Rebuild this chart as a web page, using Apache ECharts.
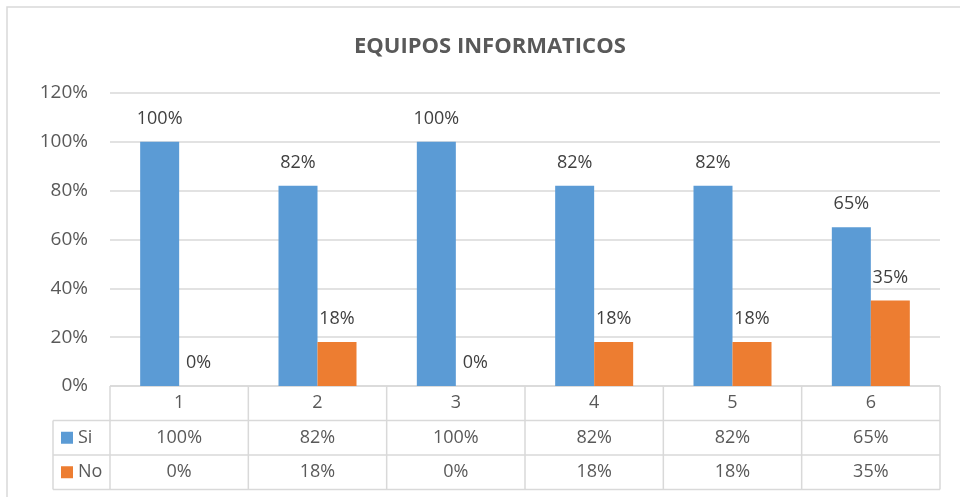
<!DOCTYPE html>
<html>
<head>
<meta charset="utf-8">
<title>EQUIPOS INFORMATICOS</title>
<script src="https://cdn.jsdelivr.net/npm/echarts@6/dist/echarts.min.js"></script>
<style>
  html, body { margin: 0; padding: 0; background: #fff; }
  #chart { width: 960px; height: 497px; }
</style>
</head>
<body>
<div id="chart"></div>
<script>
// Data
const categories = ['1', '2', '3', '4', '5', '6'];
const siValues = [1.00, 0.82, 1.00, 0.82, 0.82, 0.65];
const noValues = [0.00, 0.18, 0.00, 0.18, 0.18, 0.35];
const seriesNames = ['Si', 'No'];

const colors = { si: '#5B9BD5', no: '#ED7D31', text: '#595959', grid: '#D9D9D9' };
const font = '"Open Sans", "Noto Sans", sans-serif';

const pct = v => Math.round(v * 100) + '%';

// Plot area
const gridBox = { left: 110, right: 20, top: 93, bottom: 111 };
const rowH = 34.5;          // height of each data-table row
const legendColLeft = 53;   // left edge of the legend column in the table

const chart = echarts.init(document.getElementById('chart'));

const option = {
    animation: false,
    title: {
        text: 'EQUIPOS INFORMATICOS',
        left: 349,
        top: 31,
        textStyle: { fontFamily: font, fontSize: 22, fontWeight: 'bold', color: colors.text }
    },
    grid: gridBox,
    xAxis: {
        type: 'category',
        data: categories,
        axisLine: { show: false },
        axisTick: { show: false },
        axisLabel: { show: false }
    },
    yAxis: {
        type: 'value',
        min: 0,
        max: 1.2,
        interval: 0.2,
        axisLabel: {
            formatter: v => pct(v),
            fontFamily: font,
            fontSize: 19,
            color: colors.text,
            margin: 22
        },
        splitLine: { lineStyle: { color: colors.grid, width: 1.5 } }
    },
    series: [
        {
            name: seriesNames[0],
            type: 'bar',
            data: siValues,
            barWidth: 39,
            barGap: '0%',
            itemStyle: { color: colors.si },
            label: {
                show: true, position: 'top', distance: 14,
                formatter: p => pct(p.value),
                fontFamily: font, fontSize: 18, color: '#404040'
            }
        },
        {
            name: seriesNames[1],
            type: 'bar',
            data: noValues,
            barWidth: 39,
            barGap: '0%',
            itemStyle: { color: colors.no },
            label: {
                show: true, position: 'top', distance: 14,
                formatter: p => pct(p.value),
                fontFamily: font, fontSize: 18, color: '#404040'
            }
        }
    ]
};
chart.setOption(option);

// Data table under the plot, built from the same arrays and the x scale
function buildTable() {
    const w = 960, h = 497;
    const x0 = gridBox.left;
    const x1 = w - gridBox.right;
    const y0 = h - gridBox.bottom;
    const y1 = y0 + rowH, y2 = y1 + rowH, y3 = y2 + rowH;
    const catW = (x1 - x0) / categories.length;
    const line = { stroke: colors.grid, lineWidth: 1.5 };
    const els = [];

    // outer chart frame
    els.push({ type: 'polyline', shape: { points: [[7, h + 5], [7, 7], [w + 5, 7]] }, style: { stroke: colors.grid, lineWidth: 1.5, fill: null } });

    // horizontal rules
    els.push({ type: 'line', shape: { x1: x0, y1: y0, x2: x1, y2: y0 }, style: line });
    [y1, y2, y3].forEach(y => els.push({ type: 'line', shape: { x1: legendColLeft, y1: y, x2: x1, y2: y }, style: line }));

    // vertical rules
    els.push({ type: 'line', shape: { x1: legendColLeft, y1: y1, x2: legendColLeft, y2: y3 }, style: line });
    for (let i = 0; i <= categories.length; i++) {
        const x = x0 + i * catW;
        els.push({ type: 'line', shape: { x1: x, y1: y0, x2: x, y2: y3 }, style: line });
    }

    const cellText = (text, cx, cy) => ({
        type: 'text', x: cx, y: cy,
        style: { text: text, fill: colors.text, font: '18px ' + font, align: 'center', verticalAlign: 'middle' }
    });

    categories.forEach((c, i) => {
        const cx = chart.convertToPixel({ xAxisIndex: 0 }, c);
        els.push(cellText(c, cx, (y0 + y1) / 2));
        els.push(cellText(pct(siValues[i]), cx, (y1 + y2) / 2));
        els.push(cellText(pct(noValues[i]), cx, (y2 + y3) / 2));
    });

    // legend keys in the first column
    [[seriesNames[0], colors.si, (y1 + y2) / 2], [seriesNames[1], colors.no, (y2 + y3) / 2]].forEach(([name, col, cy]) => {
        els.push({ type: 'rect', shape: { x: 61, y: cy - 6, width: 12, height: 12 }, style: { fill: col } });
        els.push({
            type: 'text', x: 78, y: cy,
            style: { text: name, fill: colors.text, font: '18px ' + font, align: 'left', verticalAlign: 'middle' }
        });
    });

    chart.setOption({ graphic: { elements: els } });
}
buildTable();
</script>
</body>
</html>
